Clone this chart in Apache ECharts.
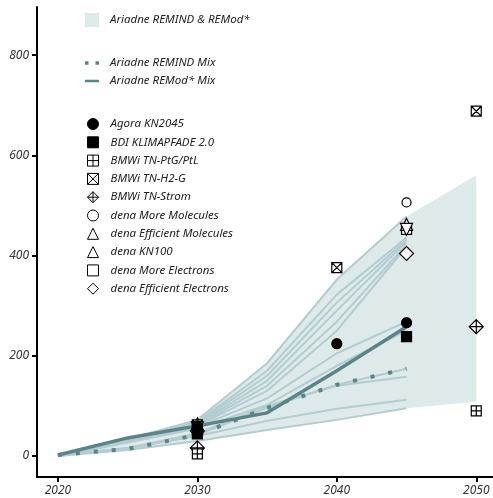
<!DOCTYPE html>
<html>
<head>
<meta charset="utf-8">
<script src="https://cdn.jsdelivr.net/npm/echarts@6/dist/echarts.min.js"></script>
<style>
  html, body { margin: 0; padding: 0; background: #fff; }
  #chart { width: 493px; height: 498px; }
</style>
</head>
<body>
<div id="chart"></div>
<script>
// years of the scenario runs
const years = [2020, 2025, 2030, 2035, 2040, 2045];

// envelope of all Ariadne runs (goes on to 2050)
const bandYears = [2020, 2025, 2030, 2035, 2040, 2045, 2050];
const bandLow = [0, 12, 30, 52, 72, 95, 108];
const bandHigh = [0, 34, 72, 185, 352, 478, 560];

// single Ariadne runs (light lines)
const run1 = [0, 34, 72, 185, 352, 478];
const run2 = [0, 32, 68, 170, 322, 436];
const run3 = [0, 31, 66, 160, 306, 432];
const run4 = [0, 30, 64, 150, 290, 428];
const run5 = [0, 30, 62, 140, 268, 422];
const run6 = [0, 29, 60, 130, 250, 418];
const run7 = [0, 28, 58, 115, 205, 268];
const run8 = [0, 27, 55, 102, 180, 250];
const run9 = [2, 14, 42, 96, 142, 174];
const run10 = [2, 16, 45, 100, 140, 158];
const run11 = [0, 16, 40, 70, 94, 112];
const run12 = [0, 12, 30, 52, 72, 95];

// the two mix lines
const remindMix = [2, 14, 42, 96, 142, 174];
const remodMix = [2, 36, 60, 86, 170, 258];

// other studies: [year, value]
const agora = [[2030, 60], [2040, 224], [2045, 266]];
const bdi = [[2030, 44], [2045, 238]];
const bmwiPtg = [[2030, 4], [2050, 90]];
const bmwiH2 = [[2030, 62], [2040, 376], [2050, 688]];
const bmwiStrom = [[2030, 16], [2050, 258]];
const denaMoreMol = [[2030, 58], [2045, 506]];
const denaEffMol = [[2030, 56], [2045, 452]];
const denaKN100 = [[2030, 64], [2045, 462]];
const denaMoreEl = [[2030, 52], [2045, 452]];
const denaEffEl = [[2030, 50], [2045, 404]];

const yTicks = [0, 200, 400, 600, 800];
const xTicks = [2020, 2030, 2040, 2050];

const runs = [run1, run2, run3, run4, run5, run6, run7, run8, run9, run10, run11, run12];

const font = { fontFamily: 'Noto Sans', fontStyle: 'italic', fontSize: 11.5, color: '#222' };
const dark = '#5b8489';
const light = '#b3ccd0';
const bandColor = '#deeaea';

function pairs(xs, ys) {
  return xs.map((x, i) => [x, ys[i]]);
}

const markers = [
  { name: 'Agora KN2045', data: agora, symbol: 'circle', size: 10, fill: '#000' },
  { name: 'BDI KLIMAPFADE 2.0', data: bdi, symbol: 'rect', size: 10, fill: '#000' },
  { name: 'BMWi TN-PtG/PtL', data: bmwiPtg, symbol: 'path://M0,0H10V10H0Z M5,0V10 M0,5H10', size: 10, fill: '#fff' },
  { name: 'BMWi TN-H2-G', data: bmwiH2, symbol: 'path://M0,0H10V10H0Z M0,0L10,10 M10,0L0,10', size: 10, fill: '#fff' },
  { name: 'BMWi TN-Strom', data: bmwiStrom, symbol: 'path://M5,0L10,5L5,10L0,5Z M5,0V10 M0,5H10', size: 14, fill: '#fff' },
  { name: 'dena More Molecules', data: denaMoreMol, symbol: 'circle', size: 9, fill: '#fff' },
  { name: 'dena Efficient Molecules', data: denaEffMol, symbol: 'triangle', size: 12, fill: '#fff', rotate: 180 },
  { name: 'dena KN100', data: denaKN100, symbol: 'triangle', size: 12, fill: '#fff' },
  { name: 'dena More Electrons', data: denaMoreEl, symbol: 'rect', size: 10, fill: '#fff' },
  { name: 'dena Efficient Electrons', data: denaEffEl, symbol: 'diamond', size: 14, fill: '#fff' }
];

const series = [];

// shaded range as one polygon
series.push({
  name: 'Ariadne REMIND & REMod*',
  type: 'custom',
  data: bandYears.map((y, i) => [y, bandLow[i], bandHigh[i]]),
  encode: { x: 0, y: [1, 2] },
  itemStyle: { color: bandColor },
  silent: true,
  z: 1,
  renderItem: function(params, api) {
    if (params.dataIndex !== 0) return;
    const top = bandYears.map((y, i) => api.coord([y, bandHigh[i]]));
    const bottom = bandYears.map((y, i) => api.coord([y, bandLow[i]])).reverse();
    return {
      type: 'polygon',
      shape: { points: top.concat(bottom) },
      style: { fill: bandColor }
    };
  }
});

runs.forEach((r, i) => {
  series.push({
    name: 'run' + (i + 1),
    type: 'line',
    data: pairs(years, r),
    symbol: 'none',
    lineStyle: { color: light, width: 2 },
    z: 2
  });
});

series.push({
  name: 'Ariadne REMIND Mix',
  type: 'line',
  data: pairs(years, remindMix),
  symbol: 'none',
  itemStyle: { color: dark },
  lineStyle: { color: dark, width: 4, type: [4, 14], cap: 'butt' },
  z: 3
});
series.push({
  name: 'Ariadne REMod* Mix',
  type: 'line',
  data: pairs(years, remodMix),
  symbol: 'none',
  itemStyle: { color: dark },
  lineStyle: { color: dark, width: 3.5 },
  z: 3
});

// open markers first, filled ones on top
markers.slice().reverse().forEach(m => {
  series.push({
    name: m.name,
    type: 'scatter',
    data: m.data,
    symbol: m.symbol,
    symbolSize: m.size,
    symbolRotate: m.rotate || 0,
    itemStyle: { color: m.fill, borderColor: '#000', borderWidth: 1.2, opacity: 1 },
    z: 4
  });
});

const legendBase = {
  orient: 'vertical',
  left: 85,
  padding: 0,
  itemWidth: 14,
  textStyle: Object.assign({ padding: [0, 0, 0, 6], lineHeight: 14 }, font),
  selectedMode: false
};

option = {
  animation: false,
  grid: { left: 37, right: 0, top: 7, bottom: 21, containLabel: false },
  legend: [
    Object.assign({}, legendBase, {
      top: 13,
      itemHeight: 14,
      data: [{ name: 'Ariadne REMIND & REMod*', icon: 'rect', itemStyle: { color: bandColor } }]
    }),
    Object.assign({}, legendBase, {
      top: 56,
      itemHeight: 12,
      itemGap: 4,
      data: [
        { name: 'Ariadne REMIND Mix', icon: 'path://M0,0H3V3H0Z M9,0H12V3H9Z' },
        { name: 'Ariadne REMod* Mix', icon: 'path://M0,0H14V2.5H0Z' }
      ]
    }),
    Object.assign({}, legendBase, {
      top: 117,
      left: 87,
      itemWidth: 11,
      itemHeight: 11,
      itemGap: 4.3,
      itemStyle: { borderWidth: 1 },
      textStyle: Object.assign({ padding: [0, 0, 0, 7], lineHeight: 14 }, font),
      data: markers.map(m => m.name)
    })
  ],
  xAxis: {
    type: 'value',
    min: 2018.5,
    max: 2051.2,
    axisLine: { onZero: false, lineStyle: { color: '#000', width: 2 } },
    axisTick: { show: true, length: 5, lineStyle: { color: '#000', width: 2 }, customValues: xTicks },
    axisLabel: Object.assign({ margin: 8, customValues: xTicks, formatter: v => String(v) }, font, { color: '#333', fontSize: 12 }),
    splitLine: { show: false }
  },
  yAxis: {
    type: 'value',
    min: -42,
    max: 896,
    axisLine: { show: true, onZero: false, lineStyle: { color: '#000', width: 2 } },
    axisTick: { show: true, length: 5, lineStyle: { color: '#000', width: 2 }, customValues: yTicks },
    axisLabel: Object.assign({ margin: 8, customValues: yTicks }, font, { color: '#333', fontSize: 12 }),
    splitLine: { show: false }
  },
  series: series
};

let myChart = echarts.init(document.getElementById('chart'));
myChart.setOption(option);
window.addEventListener('resize', function() {
  myChart.resize();
});
</script>
</body>
</html>
